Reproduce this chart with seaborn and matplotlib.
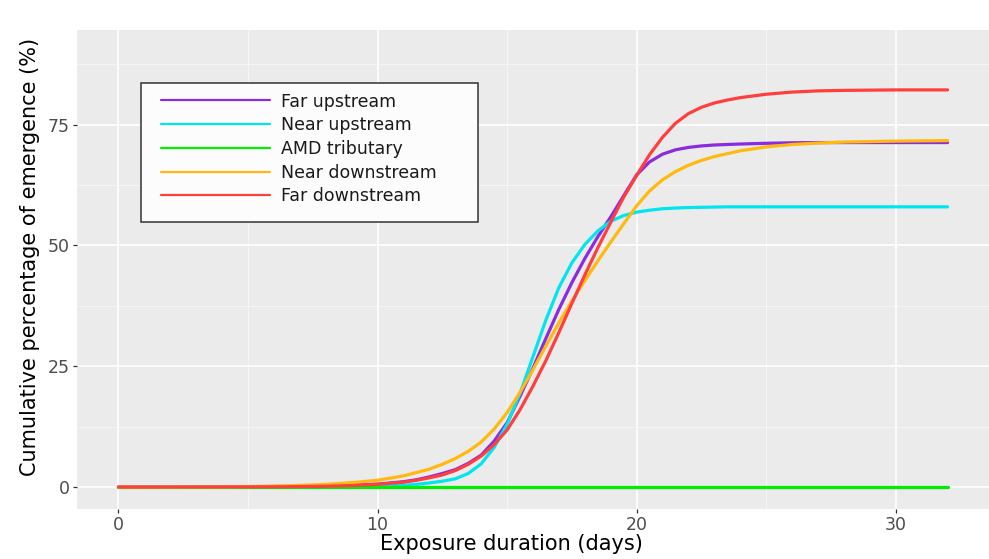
import matplotlib
matplotlib.use("Agg")
import matplotlib.pyplot as plt
from matplotlib.patches import Rectangle
from matplotlib.ticker import MultipleLocator
import pandas as pd
import seaborn as sns

# ---- data ----
days = [0, 1, 2, 3, 4, 5, 6, 7, 8, 9, 10, 11,
        11.5, 12, 12.5, 13, 13.5, 14, 14.5, 15, 15.5, 16, 16.5, 17, 17.5, 18,
        18.5, 19, 19.5, 20, 20.5, 21, 21.5, 22, 22.5, 23, 23.5, 24,
        25, 26, 27, 28, 29, 30, 31, 32]

far_upstream = [0, 0, 0, 0, 0.02, 0.04, 0.07, 0.12, 0.2, 0.35, 0.6, 1.1,
                1.5, 2.1, 2.8, 3.6, 4.9, 6.6, 9.5, 13.3, 18.8, 24.6, 30.8, 36.8, 42.3, 47.3,
                51.8, 55.9, 60.3, 64.6, 67.3, 68.9, 69.8, 70.3, 70.6, 70.8, 70.9, 71.0,
                71.15, 71.25, 71.3, 71.3, 71.3, 71.3, 71.3, 71.3]

near_upstream = [0, 0, 0, 0, 0, 0, 0.01, 0.02, 0.04, 0.08, 0.15, 0.35,
                 0.55, 0.85, 1.2, 1.7, 2.8, 4.8, 8.2, 13.0, 19.4, 27.0, 34.6, 41.3, 46.4, 50.2,
                 53.0, 55.0, 56.2, 56.9, 57.3, 57.6, 57.75, 57.85, 57.9, 57.95, 58.0, 58.0,
                 58.0, 58.0, 58.0, 58.0, 58.0, 58.0, 58.0, 58.0]

amd_tributary = [0, 0, 0, 0, 0, 0, 0, 0, 0, 0, 0, 0,
                 0, 0, 0, 0, 0, 0, 0, 0, 0, 0, 0, 0, 0, 0,
                 0, 0, 0, 0, 0, 0, 0, 0, 0, 0, 0, 0,
                 0, 0, 0, 0, 0, 0, 0, 0]

near_downstream = [0, 0, 0.01, 0.02, 0.05, 0.1, 0.2, 0.35, 0.55, 0.9, 1.4, 2.3,
                   3.0, 3.7, 4.7, 5.9, 7.4, 9.3, 12.0, 15.4, 19.6, 24.3, 29.2, 34.0, 38.5, 42.7,
                   46.8, 50.7, 54.5, 58.2, 61.3, 63.6, 65.3, 66.6, 67.6, 68.4, 69.0, 69.6,
                   70.4, 70.9, 71.2, 71.4, 71.5, 71.6, 71.65, 71.7]

far_downstream = [0, 0, 0, 0.01, 0.02, 0.03, 0.05, 0.09, 0.16, 0.3, 0.55, 1.0,
                  1.4, 1.9, 2.5, 3.4, 4.7, 6.4, 8.8, 11.8, 16.0, 20.9, 26.2, 32.0, 38.0, 43.9,
                  49.5, 54.8, 60.0, 64.5, 68.8, 72.4, 75.3, 77.3, 78.6, 79.5, 80.1, 80.6,
                  81.3, 81.75, 82.0, 82.1, 82.15, 82.2, 82.2, 82.2]

sites = ["Far upstream", "Near upstream", "AMD tributary", "Near downstream", "Far downstream"]
series = [far_upstream, near_upstream, amd_tributary, near_downstream, far_downstream]
colors = ["#8A2BE2", "#00E5EE", "#00EE00", "#FFB90F", "#FF3E3E"]

x_ticks = [0, 10, 20, 30]
y_ticks = [0, 25, 50, 75]

df = pd.concat(
    [pd.DataFrame({"day": days, "pct": vals, "site": name}) for name, vals in zip(sites, series)],
    ignore_index=True,
)

# ---- style ----
sns.set_style("darkgrid", rc={"axes.facecolor": "#EBEBEB", "grid.color": "white"})
plt.rcParams["font.family"] = ["DejaVu Sans"]

fig = plt.figure(figsize=(9.89, 5.59), dpi=100)
W, H = 989, 559
pl, pr, pt, pb = 77, 989, 30, 509
ax = fig.add_axes([pl / W, 1 - pb / H, (pr - pl) / W, (pb - pt) / H])

sns.lineplot(data=df, x="day", y="pct", hue="site", hue_order=sites,
             palette=dict(zip(sites, colors)), linewidth=2.3, ax=ax,
             estimator=None, sort=False)

ax.set_xlim(-1.6, 33.6)
ax.set_ylim(-4.55, 94.6)
ax.set_xticks(x_ticks)
ax.set_yticks(y_ticks)
ax.xaxis.set_minor_locator(MultipleLocator(5))
ax.yaxis.set_minor_locator(MultipleLocator(12.5))
ax.grid(which="major", color="white", linewidth=1.2)
ax.grid(which="minor", color="#F8F8F8", linewidth=0.6)
ax.set_axisbelow(True)
for s in ax.spines.values():
    s.set_visible(False)
ax.tick_params(which="major", length=2.8, width=0.9, color="#333333",
               labelsize=12.5, labelcolor="#4D4D4D", pad=2.5, bottom=True, left=True)
ax.tick_params(which="minor", length=0)

ax.set_xlabel("Exposure duration (days)", fontsize=15, color="black")
ax.set_ylabel("Cumulative percentage of emergence (%)", fontsize=15, color="black")
ax.xaxis.set_label_coords((511.5 - pl) / (pr - pl), -0.052)
ax.yaxis.set_label_coords((40 - pl) / (pr - pl), 1 - (256.5 - pt) / (pb - pt))

# ---- legend ----
handles, labels = ax.get_legend_handles_labels()
if ax.get_legend():
    ax.get_legend().remove()
box = Rectangle(((141 - pl) / (pr - pl), 1 - (222 - pt) / (pb - pt)),
                337 / (pr - pl), 139 / (pb - pt), transform=ax.transAxes,
                facecolor="#FCFCFC", edgecolor="#333333", linewidth=1.1, zorder=4)
ax.add_patch(box)
leg = ax.legend(handles, labels, loc="upper left",
                bbox_to_anchor=((161 - pl) / (pr - pl), 1 - (92.5 - pt) / (pb - pt)),
                frameon=False, borderpad=0, borderaxespad=0,
                handlelength=6.28, handletextpad=0.63, labelspacing=0.33,
                fontsize=12.5)
leg.set_zorder(5)
for h in leg.get_lines():
    h.set_linewidth(1.6)
for t in leg.get_texts():
    t.set_color("#1A1A1A")

fig.savefig("out.png", dpi=100)
